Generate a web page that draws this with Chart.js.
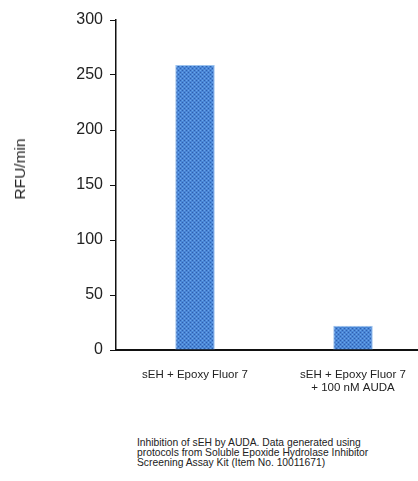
<!DOCTYPE html>
<html>
<head>
<meta charset="utf-8">
<script src="https://cdn.jsdelivr.net/npm/chart.js@4.4.0/dist/chart.umd.min.js"></script>
<style>
  html, body { margin: 0; padding: 0; background: #fff; overflow: hidden; width: 418px; height: 481px; }
  #wrap { position: absolute; left: 0; top: 0; width: 440px; height: 400px; }
  #ytitle { position: absolute; left: 19.5px; top: 168.5px; transform: translate(-50%, -50%) rotate(-90deg);
    font-family: "Liberation Sans", Arial, sans-serif; font-size: 15.5px; color: #222; white-space: nowrap; }
  #caption { position: absolute; left: 137px; top: 438px; width: 290px; white-space: nowrap;
    font-family: "Liberation Sans", Arial, sans-serif; font-size: 10.3px; line-height: 10px; color: #222; }
</style>
</head>
<body>
<div id="wrap"><canvas id="chart" width="440" height="400"></canvas></div>
<div id="ytitle">RFU/min</div>
<div id="caption">Inhibition of sEH by AUDA. Data generated  using<br>protocols from Soluble Epoxide Hydrolase Inhibitor<br>Screening Assay Kit (Item No. 10011671)</div>
<script>
// Chart data
const categories = [["sEH + Epoxy Fluor 7"], ["sEH + Epoxy Fluor 7", "+ 100 nM AUDA"]];
const rfuValues  = [259, 22];
const yTicks     = [0, 50, 100, 150, 200, 250, 300];

// dotted blue fill like the original bars
function makePattern(){
  var c = document.createElement("canvas");
  c.width = 4; c.height = 4;
  var g = c.getContext("2d");
  g.fillStyle = "#4a86d6"; g.fillRect(0, 0, 4, 4);
  g.fillStyle = "#2f5fae"; g.fillRect(0, 0, 1, 1); g.fillRect(2, 2, 1, 1);
  g.fillStyle = "#6aa6ea"; g.fillRect(2, 0, 1, 1); g.fillRect(0, 2, 1, 1);
  return g.createPattern(c, "repeat");
}

var font = "'Liberation Sans', Arial, sans-serif";

var config = {
  type: "bar",
  data: {
    labels: categories,
    datasets: [{
      label: "RFU/min",
      data: rfuValues,
      backgroundColor: makePattern(),
      borderColor: "#9cc3ee",
      borderWidth: 1,
      barPercentage: 0.25,
      categoryPercentage: 1
    }]
  },
  options: {
    responsive: false,
    animation: false,
    layout: { padding: { top: 20, right: 8, left: 0, bottom: 0 } },
    plugins: { legend: { display: false }, tooltip: { enabled: false } },
    scales: {
      x: {
        grid: { display: false },
        border: { display: true, color: "#111", width: 2 },
        ticks: { color: "#222", font: { family: font, size: 11.5, lineHeight: 1.15 }, padding: 10, maxRotation: 0 },
        afterFit: function(s){ s.height = 50; }
      },
      y: {
        min: 0, max: 300,
        afterBuildTicks: function(s){ s.ticks = yTicks.map(v => ({value: v})); },
        grid: { drawOnChartArea: false, drawTicks: true, tickLength: 6, color: "#111", lineWidth: 1 },
        border: { display: true, color: "#111", width: 1.5 },
        ticks: { color: "#222", font: { family: font, size: 16 }, padding: 7 },
        afterFit: function(s){ s.width = 116; }
      }
    }
  }
};

new Chart(document.getElementById("chart"), config);
</script>
</body>
</html>
